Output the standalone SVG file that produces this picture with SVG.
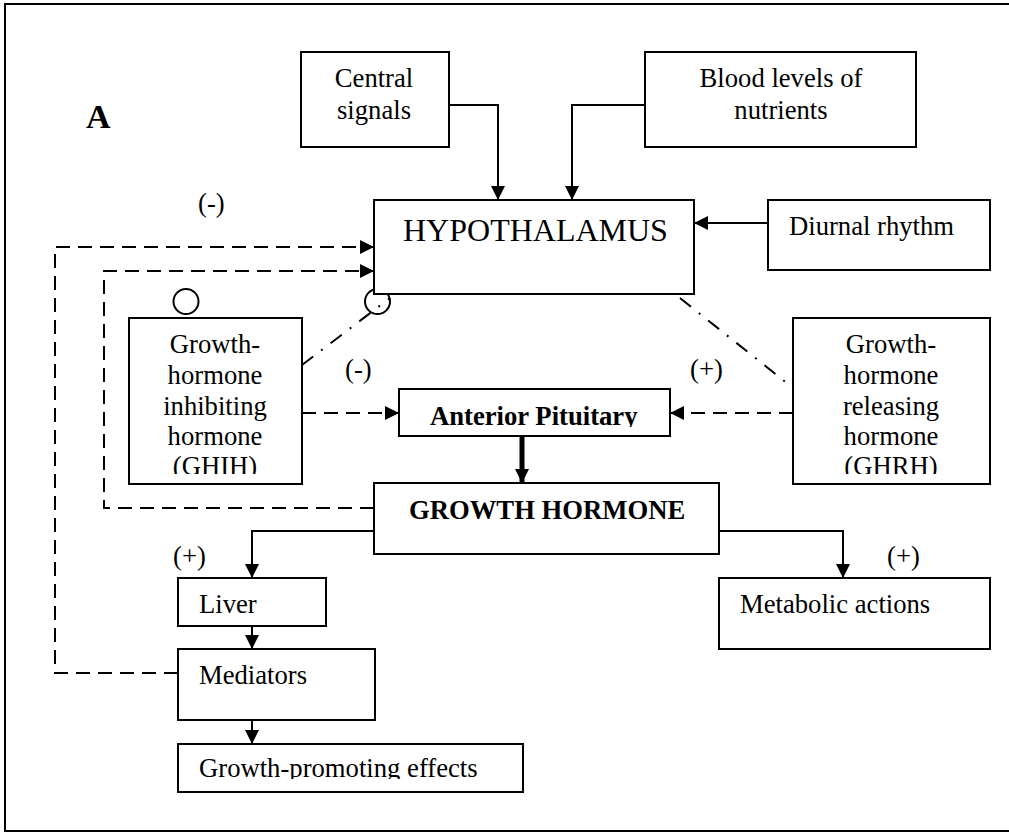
<svg xmlns="http://www.w3.org/2000/svg" width="1009" height="832" viewBox="0 0 1009 832">
<style>
.box{fill:#fff;stroke:#000;stroke-width:2}
.t{font-family:"Liberation Serif","Times New Roman",serif;font-size:26.67px;fill:#000}
.b{font-weight:bold}
.big{font-size:32px}
.lab{font-size:34px;font-weight:bold}
.ln{fill:none;stroke:#000;stroke-width:2}
.dash{fill:none;stroke:#000;stroke-width:2;stroke-dasharray:14 8}
.dd{fill:none;stroke:#000;stroke-width:2;stroke-dasharray:14 10 2 10}
</style>
<defs>
<marker id="ahm" viewBox="0 0 10 10" refX="10" refY="5" markerWidth="14" markerHeight="14" markerUnits="userSpaceOnUse" orient="auto"><path d="M0,0 L10,5 L0,10 z" fill="#000"/></marker>
<clipPath id="cGHIH"><rect x="129" y="318" width="173" height="156"/></clipPath>
<clipPath id="cGHRH"><rect x="793" y="318" width="197" height="156"/></clipPath>
<clipPath id="cAP"><rect x="399" y="389" width="271" height="38"/></clipPath>
<clipPath id="cGP"><rect x="178" y="744" width="345" height="35"/></clipPath>
</defs>
<rect x="5" y="4" width="1010" height="827" fill="#fff" stroke="#000" stroke-width="2"/>
<text class="t lab" x="86" y="128">A</text>
<text class="t" x="198" y="212">(-)</text>
<text class="t" x="345" y="378">(-)</text>
<text class="t" x="690" y="378">(+)</text>
<text class="t" x="173" y="565">(+)</text>
<text class="t" x="887" y="565">(+)</text>

<g id="connectors">
<circle cx="186" cy="301.5" r="12.5" class="ln"/>
<circle cx="377.5" cy="301.5" r="12.5" class="ln"/>
<path class="ln" d="M449,105 H498 V200" marker-end="url(#ahm)"/>
<path class="ln" d="M645,105 H572 V200" marker-end="url(#ahm)"/>
<path class="ln" d="M768,223 H694" marker-end="url(#ahm)"/>
<path class="dash" d="M178,673 H55 V247 H374" marker-end="url(#ahm)"/>
<path class="dash" d="M374,508 H104 V271 H374" marker-end="url(#ahm)"/>
<path class="dd" d="M302,365 L390,298"/>
<path class="dd" d="M680,298 L793,388"/>
<path class="dash" d="M302,413 H399" marker-end="url(#ahm)"/>
<path class="dash" d="M793,413 H670" marker-end="url(#ahm)"/>
<path fill="none" stroke="#000" stroke-width="5" d="M522,436 V483" marker-end="url(#ahm)"/>
<path class="ln" d="M374,531 H252 V578" marker-end="url(#ahm)"/>
<path class="ln" d="M719,531 H843 V578" marker-end="url(#ahm)"/>
<path class="ln" d="M252,626 V649" marker-end="url(#ahm)"/>
<path class="ln" d="M252,720 V744" marker-end="url(#ahm)"/>
</g>

<g id="central-signals">
<rect class="box" x="301" y="52" width="148" height="95"/>
<text class="t" x="374" y="87" text-anchor="middle">Central</text>
<text class="t" x="374" y="119" text-anchor="middle">signals</text>
</g>
<g id="blood-levels">
<rect class="box" x="645" y="52" width="271" height="95"/>
<text class="t" x="781" y="87" text-anchor="middle">Blood levels of</text>
<text class="t" x="781" y="119" text-anchor="middle">nutrients</text>
</g>
<g id="hypothalamus">
<rect class="box" x="374" y="200" width="320" height="94"/>
<text class="t big" x="403" y="241">HYPOTHALAMUS</text>
</g>
<g id="diurnal">
<rect class="box" x="768" y="200" width="222" height="70"/>
<text class="t" x="789" y="235">Diurnal rhythm</text>
</g>
<g id="ghih">
<rect class="box" x="129" y="318" width="173" height="166"/>
<g clip-path="url(#cGHIH)">
<text class="t" x="215" y="353" text-anchor="middle">Growth-</text>
<text class="t" x="215" y="384" text-anchor="middle">hormone</text>
<text class="t" x="215" y="415" text-anchor="middle">inhibiting</text>
<text class="t" x="215" y="445" text-anchor="middle">hormone</text>
<text class="t" x="215" y="475" text-anchor="middle">(GHIH)</text>
</g>
</g>
<g id="ghrh">
<rect class="box" x="793" y="318" width="197" height="166"/>
<g clip-path="url(#cGHRH)">
<text class="t" x="891" y="353" text-anchor="middle">Growth-</text>
<text class="t" x="891" y="384" text-anchor="middle">hormone</text>
<text class="t" x="891" y="415" text-anchor="middle">releasing</text>
<text class="t" x="891" y="445" text-anchor="middle">hormone</text>
<text class="t" x="891" y="475" text-anchor="middle">(GHRH)</text>
</g>
</g>
<g id="anterior-pituitary">
<rect class="box" x="399" y="389" width="271" height="47"/>
<text class="t b" x="430" y="425" clip-path="url(#cAP)">Anterior Pituitary</text>
</g>
<g id="growth-hormone">
<rect class="box" x="374" y="483" width="345" height="71"/>
<text class="t b" x="409" y="519">GROWTH HORMONE</text>
</g>
<g id="liver">
<rect class="box" x="178" y="578" width="148" height="48"/>
<text class="t" x="199" y="613">Liver</text>
</g>
<g id="mediators">
<rect class="box" x="178" y="649" width="197" height="71"/>
<text class="t" x="199" y="684">Mediators</text>
</g>
<g id="growth-promoting">
<rect class="box" x="178" y="744" width="345" height="48"/>
<text class="t" x="199" y="777" clip-path="url(#cGP)">Growth-promoting effects</text>
</g>
<g id="metabolic">
<rect class="box" x="719" y="578" width="271" height="71"/>
<text class="t" x="740" y="613">Metabolic actions</text>
</g>
</svg>
